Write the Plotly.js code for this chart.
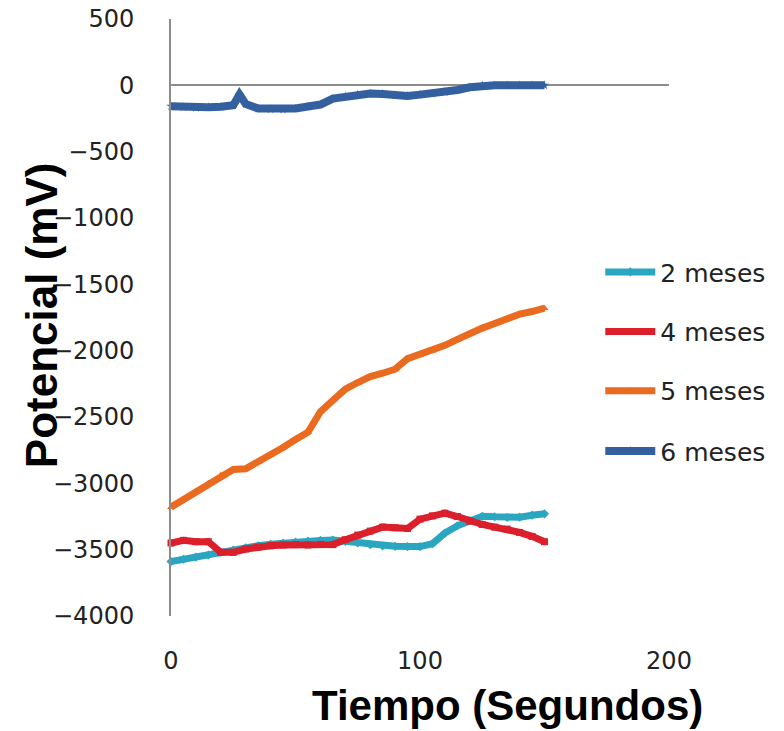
<!DOCTYPE html>
<html>
<head>
<meta charset="utf-8">
<script src="https://cdn.plot.ly/plotly-3.0.1.min.js"></script>
<style>html,body{margin:0;padding:0;background:#fff;}#chart{width:784px;height:731px;}</style>
</head>
<body>
<div id="chart"></div>
<script>
const time = [0,5,10,15,20,25,30,35,40,45,50,55,60,65,70,75,80,85,90,95,100,105,110,115,120,125,130,135,140,145,150];
const time6 = [0,5,10,15,20,25,27.5,30,35,40,45,50,55,60,65,70,75,80,85,90,95,100,105,110,115,120,125,130,135,140,145,150];
const meses2 = [-3590,-3572,-3556,-3540,-3520,-3502,-3485,-3470,-3460,-3450,-3442,-3435,-3430,-3427,-3438,-3450,-3462,-3472,-3475,-3477,-3477,-3455,-3375,-3320,-3280,-3248,-3252,-3258,-3255,-3240,-3230];
const meses4 = [-3450,-3430,-3440,-3440,-3520,-3520,-3495,-3480,-3470,-3465,-3462,-3465,-3460,-3462,-3425,-3390,-3360,-3330,-3335,-3340,-3270,-3245,-3225,-3250,-3285,-3310,-3330,-3345,-3370,-3400,-3440];
const meses5 = [-3180,-3120,-3060,-3000,-2940,-2895,-2890,-2840,-2785,-2730,-2670,-2615,-2460,-2370,-2290,-2240,-2195,-2170,-2140,-2060,-2030,-2000,-1960,-1915,-1870,-1830,-1795,-1760,-1725,-1705,-1680];
const meses6 = [-158,-165,-170,-165,-162,-150,-70,-140,-175,-180,-183,-175,-160,-145,-100,-85,-70,-62,-65,-75,-80,-70,-62,-50,-35,-15,0,0,0,0,0,0];
const seriesNames = ["2 meses","4 meses","5 meses","6 meses"];
const xTicks = [0,100,200];
const yTicks = [500,0,-500,-1000,-1500,-2000,-2500,-3000,-3500,-4000];

const colors = ["#2BA6C1","#DB1F2B","#EA6A1F","#35609F"];
const symbols = ["diamond","square","triangle-up","star"];
const xs = [time,time,time,time6];
const ys = [meses2,meses4,meses5,meses6];
const legendIds = ["legend","legend2","legend3","legend4"];
const widths = [7,7,7,8];

const traces = ys.map((y,i)=>({
  type:"scatter", mode:"lines+markers", x:xs[i], y:y, name:seriesNames[i],
  legend: legendIds[i],
  line:{color:colors[i], width:widths[i]},
  marker:{color:colors[i], size:7, symbol:symbols[i]},
  cliponaxis:false
}));

const legendYs = [0.576,0.476,0.377,0.276];
const legendBase = {x:0.862, xanchor:"left", yanchor:"middle", bgcolor:"rgba(0,0,0,0)", borderwidth:0,
  font:{family:"DejaVu Sans", size:25, color:"#222"}, itemwidth:50};
const layout = {
  width:784, height:731,
  margin:{l:171, r:115, t:19, b:115},
  paper_bgcolor:"#fff", plot_bgcolor:"#fff",
  showlegend:true,
  xaxis:{range:[0,200], tickvals:xTicks, ticktext:xTicks.map(String), showgrid:false, zeroline:false,
    showline:false, ticks:"", ticklabelstandoff:28,
    tickfont:{family:"DejaVu Sans", size:24, color:"#222"}},
  yaxis:{range:[-4000,500], tickvals:yTicks, ticktext:yTicks.map(v=>v<0?"\u2212"+Math.abs(v):String(v)),
    showgrid:false, zeroline:true, zerolinecolor:"#8c8c8c", zerolinewidth:2,
    showline:true, linecolor:"#8c8c8c", linewidth:2, ticks:"", ticklabelstandoff:30,
    tickfont:{family:"DejaVu Sans", size:24, color:"#222"}},
  annotations:[
    {text:"Tiempo (Segundos)", xref:"paper", yref:"paper", x:(507-171)/498, y:(616-706)/597.3,
     xanchor:"center", yanchor:"middle", showarrow:false,
     font:{family:"Liberation Sans", size:42, color:"#000", weight:"bold"}},
    {text:"Potencial (mV)", xref:"paper", yref:"paper", x:(41-171)/498, y:(616-315)/597.3,
     xanchor:"center", yanchor:"middle", showarrow:false, textangle:-90,
     font:{family:"Liberation Sans", size:44, color:"#000", weight:"bold"}}
  ]
};
legendIds.forEach((id,i)=>{ layout[id] = Object.assign({}, legendBase, {y:legendYs[i]}); });

Plotly.newPlot("chart", traces, layout, {displayModeBar:false, staticPlot:true});
</script>
</body>
</html>
